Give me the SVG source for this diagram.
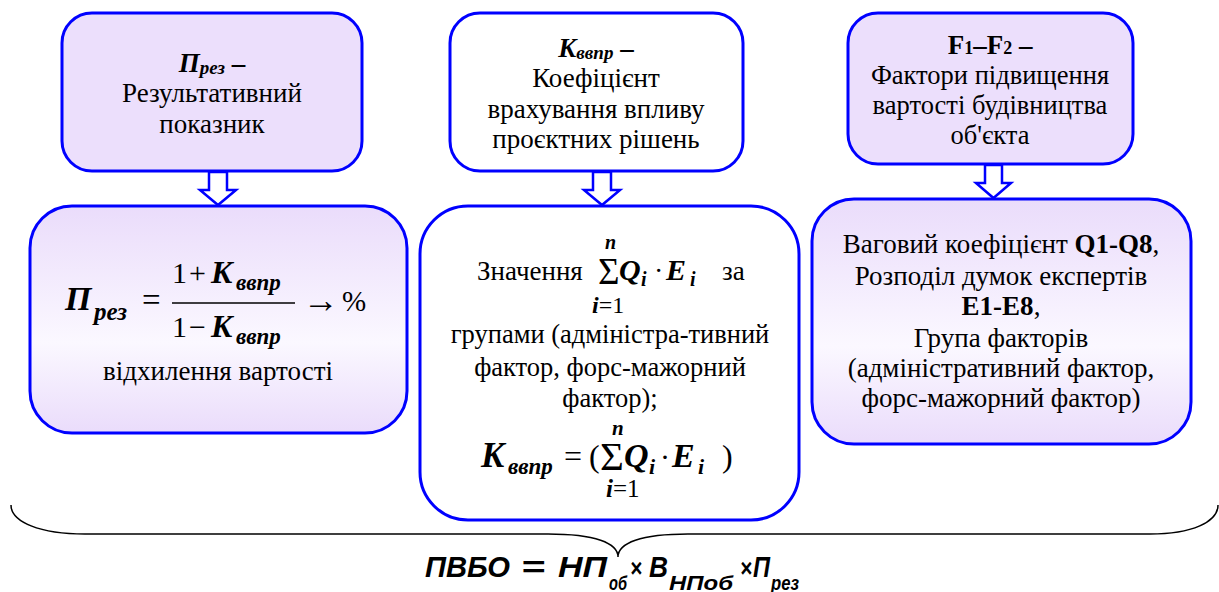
<svg xmlns="http://www.w3.org/2000/svg" width="1219" height="592" viewBox="0 0 1219 592">
<defs>
<linearGradient id="lav" x1="0" y1="0" x2="0" y2="1">
<stop offset="0" stop-color="#eadcfb"/>
<stop offset="0.6" stop-color="#fbf8ff"/>
<stop offset="1" stop-color="#eadcfb"/>
</linearGradient>
</defs>
<style>
.box{stroke:#0000ff;stroke-width:3}
.flat{fill:#ecdffc}
.grad{fill:url(#lav)}
.white{fill:#ffffff}
.arrow{fill:#ffffff;stroke:#0000ff;stroke-width:2.5;stroke-linejoin:miter}
.t{font-family:'Liberation Serif','Times New Roman',serif;fill:#000}
.c{text-anchor:middle}
.bi{font-weight:bold;font-style:italic}
.b{font-weight:bold}
.brace{fill:none;stroke:#000;stroke-width:1.5}
.f{font-family:'Liberation Sans',Arial,sans-serif;font-weight:bold;font-style:italic;fill:#000}
</style>

<g id="connectors">
<polygon class="arrow" points="209,172 227,172 227,190 236,190 218,205 200,190 209,190"/>
<polygon class="arrow" points="593,172 611,172 611,190 620,190 602,205 584,190 593,190"/>
<polygon class="arrow" points="985,165 1002,165 1002,183 1011,183 993.5,198 976,183 985,183"/>
<path class="brace" d="M11,505 C11,522 40,534 85,534 L548,534 C595,534 618,543 618,557 C618,543 641,534 688,534 L1150,534 C1192,534 1218,522 1218,505"/>
</g>

<g id="node-prez">
<rect class="box flat" x="62" y="13" width="300" height="158" rx="30"/>
<text class="t c" font-size="27" x="212" y="72"><tspan class="bi">П</tspan><tspan class="bi" font-size="19" dy="2">рез</tspan><tspan class="b" dy="-2"> –</tspan></text>
<text class="t c" font-size="27" x="212" y="102">Результативний</text>
<text class="t c" font-size="27" x="212" y="133">показник</text>
</g>

<g id="node-kvvpr">
<rect class="box white" x="450" y="13" width="293" height="158" rx="30"/>
<text class="t c" font-size="27" x="596" y="57"><tspan class="bi">K</tspan><tspan class="bi" font-size="19" dy="2">ввпр</tspan><tspan class="b" dy="-2"> –</tspan></text>
<text class="t c" font-size="27" x="596" y="87">Коефіцієнт</text>
<text class="t c" font-size="27" x="596" y="118">врахування впливу</text>
<text class="t c" font-size="27" x="596" y="148">проєктних рішень</text>
</g>

<g id="node-factors">
<rect class="box flat" x="848" y="13" width="285" height="151" rx="30"/>
<text class="t c b" font-size="27" x="990" y="54">F<tspan font-size="18">1</tspan>–F<tspan font-size="18">2</tspan> –</text>
<text class="t c" font-size="26.5" x="990" y="84">Фактори підвищення</text>
<text class="t c" font-size="26.5" x="990" y="114">вартості будівництва</text>
<text class="t c" font-size="26.5" x="990" y="144">об'єкта</text>
</g>

<g id="node-prez-formula">
<rect class="box grad" x="30" y="206" width="377" height="227" rx="42"/>
<text class="t bi" x="65" y="310" font-size="34">П</text>
<text class="t bi" x="94" y="320" font-size="25">рез</text>
<text class="t" x="142" y="311" font-size="33">=</text>
<line x1="172" y1="303" x2="295" y2="303" stroke="#000" stroke-width="1.5"/>
<text class="t" x="172" y="283" font-size="30">1</text>
<text class="t" x="189" y="283" font-size="30">+</text>
<text class="t bi" x="211" y="283" font-size="32">K</text>
<text class="t bi" x="236" y="290" font-size="23">ввпр</text>
<text class="t" x="172" y="337" font-size="30">1</text>
<text class="t" x="189" y="337" font-size="30">−</text>
<text class="t bi" x="211" y="337" font-size="32">K</text>
<text class="t bi" x="236" y="344" font-size="23">ввпр</text>
<text class="t" x="303" y="312" font-size="36">→</text>
<text class="t" x="342" y="311" font-size="29">%</text>
<text class="t c" font-size="27" x="218" y="380">відхилення вартості</text>
</g>

<g id="node-kvvpr-formula">
<rect class="box white" x="420" y="206" width="379" height="314" rx="48"/>
<text class="t" font-size="27" x="477" y="280">Значення</text>
<text class="t" x="598" y="284" font-size="37">Σ</text>
<text class="t bi" x="605" y="249" font-size="20">n</text>
<text class="t bi" x="619" y="280" font-size="30">Q</text>
<text class="t bi" x="641" y="286" font-size="20">i</text>
<text class="t" x="654" y="280" font-size="28">·</text>
<text class="t bi" x="666" y="280" font-size="30">E</text>
<text class="t bi" x="690" y="286" font-size="20">i</text>
<text class="t" font-size="27" x="722" y="280">за</text>
<text class="t" x="592" y="313" font-size="24"><tspan class="bi">i</tspan>=1</text>
<text class="t c" font-size="26.5" x="610" y="343">групами (адміністра-тивний</text>
<text class="t c" font-size="26.5" x="610" y="376">фактор, форс-мажорний</text>
<text class="t c" font-size="26.5" x="610" y="407">фактор);</text>
<text class="t bi" x="481" y="467" font-size="35">K</text>
<text class="t bi" x="508" y="474" font-size="23">ввпр</text>
<text class="t" x="564" y="467" font-size="32">=</text>
<text class="t" x="589" y="467" font-size="32">(</text>
<text class="t" x="600" y="470" font-size="41">Σ</text>
<text class="t bi" x="612" y="435" font-size="21">n</text>
<text class="t bi" x="624" y="467" font-size="34">Q</text>
<text class="t bi" x="649" y="474" font-size="22">i</text>
<text class="t" x="660" y="467" font-size="30">·</text>
<text class="t bi" x="672" y="467" font-size="34">E</text>
<text class="t bi" x="698" y="474" font-size="22">i</text>
<text class="t" x="722" y="467" font-size="32">)</text>
<text class="t" x="606" y="497" font-size="25"><tspan class="bi">i</tspan>=1</text>
</g>

<g id="node-factors-detail">
<rect class="box grad" x="812" y="199" width="379" height="245" rx="42"/>
<text class="t c" font-size="27" x="1001" y="253">Ваговий коефіцієнт <tspan class="b">Q1-Q8</tspan>,</text>
<text class="t c" font-size="27" x="1001" y="285">Розподіл думок експертів</text>
<text class="t c" font-size="27" x="1001" y="315"><tspan class="b">E1-E8</tspan>,</text>
<text class="t c" font-size="27" x="1001" y="347">Група факторів</text>
<text class="t c" font-size="27" x="1001" y="377">(адміністративний фактор,</text>
<text class="t c" font-size="27" x="1001" y="407">форс-мажорний фактор)</text>
</g>

<g id="node-total">
<text class="f" x="425" y="577" font-size="30" textLength="85" lengthAdjust="spacingAndGlyphs">ПВБО</text>
<text class="f" x="521" y="577" font-size="30" textLength="24" lengthAdjust="spacingAndGlyphs">=</text>
<text class="f" x="558" y="577" font-size="30" textLength="49" lengthAdjust="spacingAndGlyphs">НП</text>
<text class="f" x="609" y="590" font-size="20" textLength="18" lengthAdjust="spacingAndGlyphs">об</text>
<text class="f" x="630" y="577" font-size="25" textLength="12" lengthAdjust="spacingAndGlyphs">×</text>
<text class="f" x="649" y="577" font-size="30" textLength="19" lengthAdjust="spacingAndGlyphs">В</text>
<text class="f" x="669" y="590" font-size="20" textLength="64" lengthAdjust="spacingAndGlyphs">НПоб</text>
<text class="f" x="740" y="577" font-size="25" textLength="12" lengthAdjust="spacingAndGlyphs">×</text>
<text class="f" x="753" y="577" font-size="30" textLength="17" lengthAdjust="spacingAndGlyphs">П</text>
<text class="f" x="771" y="590" font-size="20" textLength="28" lengthAdjust="spacingAndGlyphs">рез</text>
</g>
</svg>
